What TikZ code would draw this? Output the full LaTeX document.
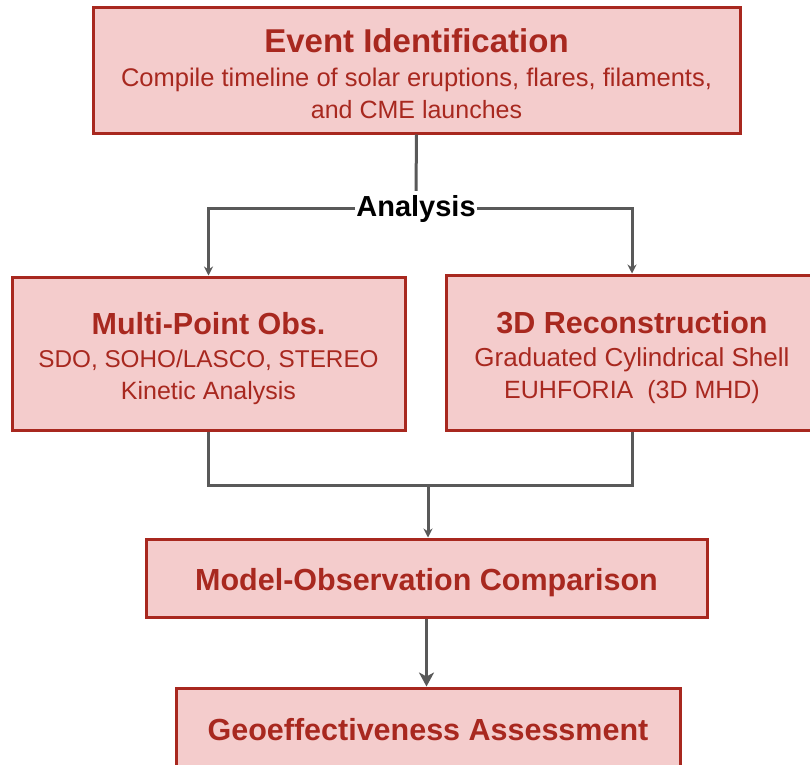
\documentclass[tikz,border=0pt]{standalone}
\usepackage{fontspec}
\setmainfont{Liberation Sans}
\usetikzlibrary{arrows.meta}
\definecolor{boxfill}{HTML}{F4CCCC}
\definecolor{boxdraw}{HTML}{A8281F}
\definecolor{linegray}{HTML}{595959}
\begin{document}
\begin{tikzpicture}[x=1pt,y=-1pt,
  box/.style={draw=boxdraw, fill=boxfill, line width=3pt, inner sep=0pt},
  boxtext/.style={text=boxdraw, align=center, inner sep=0pt, font=\fontsize{25}{32}\selectfont},
  conn/.style={draw=linegray, line width=3pt},
  tip/.style={-{Stealth[length=9pt,width=9pt]}},
  bigtip/.style={-{Stealth[length=14pt,width=15pt,inset=4pt]}}]
\clip (0,0) rectangle (810,764);
\useasboundingbox (0,0) rectangle (810,764);
\fill[white] (0,0) rectangle (810,764);

\node[box, minimum width=647pt, minimum height=126pt] (ev) at (416.5,70) {};
\node[boxtext, yshift=-4pt] (evt) at (ev.center)
  {{\fontsize{33}{34}\selectfont\bfseries Event Identification}\\[2pt]
   {\fontsize{25.5}{32}\selectfont Compile timeline of solar eruptions, flares, filaments,}\\ and CME launches};
\node[box, minimum width=393pt, minimum height=153pt] (mp) at (208.5,353.5) {};
\node[boxtext, yshift=-5pt] (mpt) at (mp.center)
  {{\fontsize{30.5}{32}\selectfont\bfseries Multi-Point Obs.}\\[1pt]
   {\fontsize{24.3}{32}\selectfont SDO, SOHO/LASCO, STEREO}\\ Kinetic Analysis};
\node[box, minimum width=372pt, minimum height=155pt] (rc) at (632,352.5) {};
\node[boxtext, yshift=-5pt] (rct) at (rc.center)
  {{\fontsize{30.5}{32}\selectfont\bfseries 3D Reconstruction}\\[1pt]
   {\fontsize{26}{32}\selectfont Graduated Cylindrical Shell}\\ EUHFORIA\ \ (3D MHD)};
\node[box, minimum width=561pt, minimum height=78pt] (mo) at (426.5,578) {};
\node[boxtext, yshift=-5pt, font=\fontsize{30.5}{32}\selectfont\bfseries] (mot) at (mo.center)
  {Model-Observation Comparison};
\node[box, minimum width=504pt, minimum height=82pt] (ge) at (428,729) {};
\node[boxtext, yshift=-1pt, font=\fontsize{30.5}{32}\selectfont\bfseries] (get) at (ge.center)
  {Geoeffectiveness Assessment};
\node[font=\fontsize{29}{32}\selectfont\bfseries, text=black, inner xsep=1pt, inner ysep=4pt] (an) at (416,208.5) {Analysis};

\coordinate (mg) at (428,485);
\draw[conn] (ev.south) -- (an.north);
\draw[conn, tip] (an.west) -| (mp.north);
\draw[conn, tip] (an.east) -| (rc.north);
\draw[conn] (mp.south) |- (mg);
\draw[conn] (rc.south) |- (mg);
\draw[conn, tip] (mg) -- (mg |- mo.north);
\draw[conn, bigtip] (mo.south) -- (mo.south |- ge.north);
\end{tikzpicture}
\end{document}
